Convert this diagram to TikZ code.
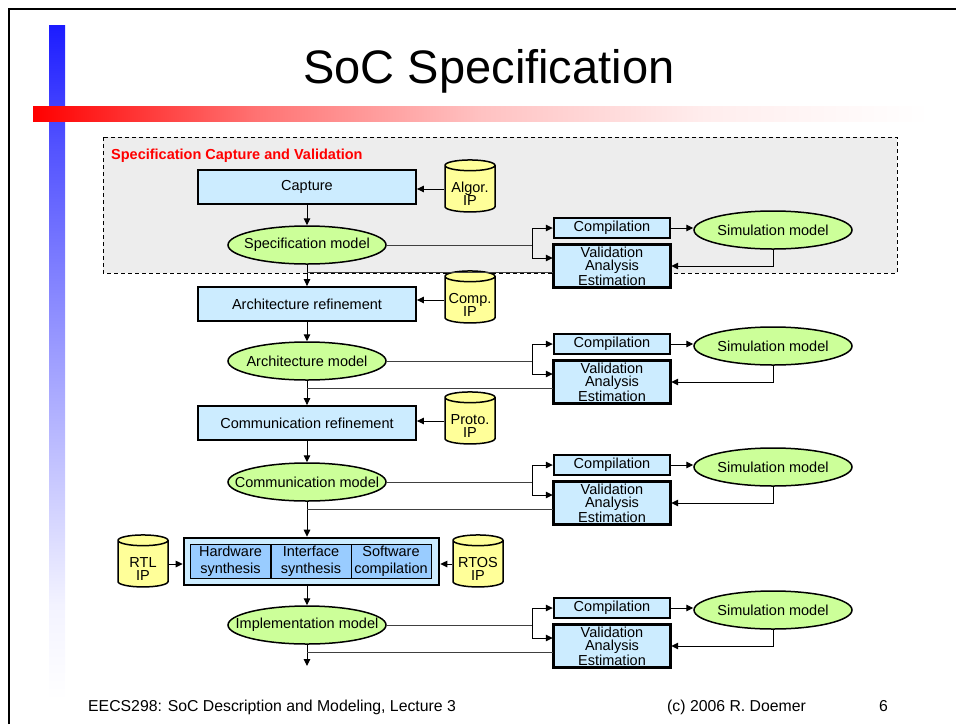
\documentclass[tikz,border=0pt]{standalone}
\usepackage{fontspec}
\setmainfont{Liberation Sans}
\usetikzlibrary{arrows.meta,shapes.geometric,calc}
\definecolor{boxblue}{HTML}{CCECFF}
\definecolor{cellblue}{HTML}{99CCFF}
\definecolor{modgreen}{HTML}{CCFF99}
\definecolor{cylyel}{HTML}{FFFF99}
\definecolor{grayzone}{HTML}{EDEDED}
\definecolor{linegray}{HTML}{404040}
\definecolor{titlered}{HTML}{FF0000}
\definecolor{barblue}{HTML}{1010FF}
\pgfdeclarehorizontalshading{redbar}{100bp}{color(0bp)=(red); color(25bp)=(red); color(37.5bp)=(red!55); color(50bp)=(red!24); color(62.5bp)=(red!7); color(75bp)=(white); color(100bp)=(white)}
\pgfdeclareverticalshading{bluebar}{100bp}{color(0bp)=(white); color(25bp)=(white); color(32bp)=(barblue!5); color(50bp)=(barblue!40); color(66bp)=(barblue!72); color(75bp)=(barblue!95); color(100bp)=(barblue!95)}
\newcommand{\zw}[1]{\makebox[0pt][c]{#1}}
\begin{document}
\begin{tikzpicture}[x=1pt,y=-1pt,
 every node/.style={font=\fontsize{14.5}{14}\selectfont, inner sep=0pt},
 stepbox/.style={draw, line width=1.8pt, fill=boxblue, minimum width=218pt, minimum height=34pt},
 model/.style={ellipse, draw, line width=1.5pt, fill=modgreen, minimum width=158pt, minimum height=38pt},
 compbox/.style={draw, line width=2.4pt, fill=boxblue, minimum width=116pt, minimum height=20pt},
 valbox/.style={draw, line width=2.4pt, fill=boxblue, minimum width=116pt, minimum height=42pt, align=center, font=\fontsize{14.5}{13.5}\selectfont},
 ipcyl/.style={cylinder, shape border rotate=90, aspect=0.27, draw, line width=1.5pt, fill=cylyel, minimum width=50pt, minimum height=52pt},
 cyltext/.style={align=center, font=\fontsize{14.5}{13}\selectfont},
 cell/.style={draw, line width=1pt, fill=cellblue, minimum width=80pt, minimum height=34pt, align=center, font=\fontsize{14.5}{17}\selectfont},
 arr/.style={-{Triangle[length=7pt,width=6.5pt]}, line width=1pt},
 fline/.style={line width=1pt, draw=linegray},
]
\useasboundingbox (0,0) rectangle (956,724);
% page decoration
\draw[line width=2pt] (9,724) -- (9,9) -- (956,9);
\shade[shading=bluebar] (49,25) rectangle (65,700);
\shade[shading=redbar] (33,106) rectangle (930,121);
\node[font=\fontsize{47}{47}\selectfont, anchor=base] (title) at (489,83) {SoC Specification};
% gray zone
\draw[dash pattern=on 4pt off 3pt, line width=1pt, fill=grayzone] (103,137) rectangle (897,273);
\node[anchor=base west, text=titlered, font=\bfseries\fontsize{14.5}{14}\selectfont] (zlabel) at (111,159) {Specification Capture and Validation};

% main column
\node[stepbox] (cap) at (307,187) {Capture};
\node[ipcyl] (algor) at (470,189) {\phantom{RTOS}};
\node[cyltext] (algort) at (470,194) {Algor.\\IP};
\node[model] (m1) at (307,245) {\zw{Specification model}};
\node[stepbox] (ar) at (307,304) {Architecture refinement};
\node[ipcyl] (comp) at (470,300) {\phantom{RTOS}};
\node[cyltext] (compt) at (470,305) {Comp.\\IP};
\node[model] (m2) at (307,361) {\zw{Architecture model}};
\node[stepbox] (cr) at (307,423) {Communication refinement};
\node[ipcyl] (proto) at (470,421) {\phantom{RTOS}};
\node[cyltext] (protot) at (470,426) {Proto.\\IP};
\node[model] (m3) at (307,482) {\zw{Communication model}};
\node[draw, line width=2.6pt, fill=boxblue, minimum width=255pt, minimum height=47pt] (syn) at (311.5,561.5) {};
\node[cell] (hw) at (230.5,561) {Hardware\\synthesis};
\node[cell] (if) at (311,561) {Interface\\synthesis};
\node[cell] (sw) at (391,561) {Software\\compilation};
\node[ipcyl] (rtl) at (143,564) {\phantom{RTOS}};
\node[cyltext] (rtlt) at (143,569) {RTL\\IP};
\node[ipcyl] (rtos) at (478,564) {\phantom{RTOS}};
\node[cyltext] (rtost) at (478,569) {RTOS\\IP};
\node[model] (m4) at (307,625) {\zw{Implementation model}};
\coordinate (end) at (307,666);

% side columns
\foreach \i/\y in {1/245,2/361,3/482,4/625}{
  \node[compbox] (c\i) at (612,\y-17) {Compilation};
  \node[valbox] (v\i) at (612,\y+21) {Validation\\Analysis\\Estimation};
  \draw[line width=2.4pt] (v\i.south west) rectangle (v\i.north east);
  \node[model] (s\i) at (773,\y-15) {\zw{Simulation model}};
  \coordinate (b\i) at (532,\y);
}

% main arrows
\draw[arr] (algor.west) -- (algor.west -| cap.east);
\draw[arr] (comp.west) -- (comp.west -| ar.east);
\draw[arr] (proto.west) -- (proto.west -| cr.east);
\draw[arr] (rtl.east) -- (rtl.east -| syn.west);
\draw[arr] (rtos.west) -- (rtos.west -| syn.east);
\draw[arr] (cap.south) -- (m1.north);
\draw[arr] (m1.south) -- (ar.north);
\draw[arr] (ar.south) -- (m2.north);
\draw[arr] (m2.south) -- (cr.north);
\draw[arr] (cr.south) -- (m3.north);
\draw[arr] (m3.south) -- (m3.south |- syn.north);
\draw[arr] (m4.north |- syn.south) -- (m4.north);
\draw[arr] (m4.south) -- (end);

% side connections
\foreach \i in {1,2,3,4}{
  \draw[fline] (m\i.east) -- (b\i);
  \draw[arr] ($(b\i |- c\i.west)+(0,6)$) |- (c\i.west);
  \draw[arr] ($(b\i |- c\i.west)+(0,6)$) |- ([yshift=8pt]v\i.west);
  \draw[line width=1pt] (b\i |- c\i.west) -- (b\i |- v\i.north);
  \draw[arr] (c\i.east) -- (c\i.east -| s\i.west);
  \draw[arr] (s\i.south) |- (v\i.east);
  \draw[fline] ([yshift=-6pt]v\i.west) -- ([yshift=-6pt]v\i.west -| m\i.south);
}

% footer
\node[anchor=base west, font=\fontsize{15.8}{16}\selectfont] (f1) at (88,711) {EECS298: SoC Description and Modeling, Lecture 3};
\node[anchor=base west, font=\fontsize{15.8}{16}\selectfont] (f2) at (667,711) {(c) 2006 R. Doemer};
\node[anchor=base west, font=\fontsize{15.8}{16}\selectfont] (f3) at (879,711) {6};
\end{tikzpicture}
\end{document}
